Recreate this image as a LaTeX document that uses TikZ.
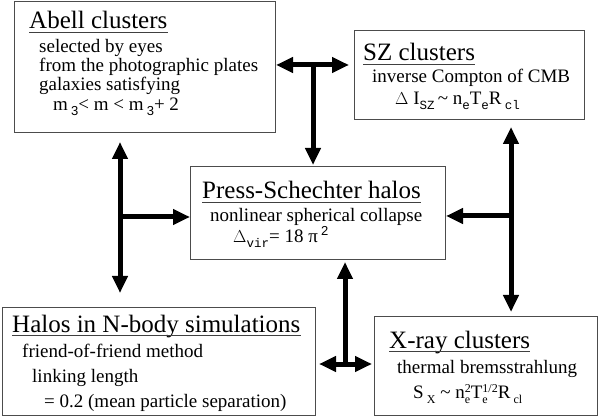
\documentclass[tikz,border=0pt]{standalone}
\usepackage{fontspec}
\setmainfont{Liberation Serif}
\newfontfamily\monof{Liberation Mono}
\newfontfamily\sanf{Liberation Sans}
\usetikzlibrary{arrows.meta}
\newcommand\tsz{\fontsize{25}{30}\selectfont}
\newcommand\bsz{\fontsize{19}{23}\selectfont}
\newcommand\smo[1]{\raisebox{-4.5pt}{\fontsize{12.5}{12}\selectfont\monof #1}}
\newcommand\sti[1]{\raisebox{-5pt}{\fontsize{12}{12}\selectfont #1}}
\newcommand\ssa[1]{\raisebox{-5pt}{\fontsize{13}{13}\selectfont\sanf #1}}
\newcommand\supti[1]{\raisebox{6pt}{\fontsize{12}{12}\selectfont #1}}
\newcommand\supsa[1]{\raisebox{7pt}{\fontsize{13}{13}\selectfont\sanf #1}}
\begin{document}
\begin{tikzpicture}[x=1pt,y=-1pt,
  box/.style={draw=black!70, line width=1pt, inner sep=0pt, outer sep=0pt},
  ttl/.style={anchor=base west, inner sep=0pt, font=\tsz},
  txt/.style={anchor=base west, inner sep=0pt, font=\bsz},
  conn/.style={line width=5pt, -{Triangle[length=17pt,width=15pt]}},
  dconn/.style={line width=5pt, {Triangle[length=17pt,width=15pt]}-{Triangle[length=17pt,width=15pt]}},
  ulline/.style={line width=1pt, draw=black!75}]
\useasboundingbox (0,0) rectangle (599,419);
% boxes
\node[box, minimum width=261pt, minimum height=131pt] (abell) at (144.5,67.5) {};
\node[box, minimum width=230pt, minimum height=89pt] (sz) at (469,75.5) {};
\node[box, minimum width=255pt, minimum height=93pt] (ps) at (317.5,213.5) {};
\node[box, minimum width=313pt, minimum height=108pt] (nbody) at (158.5,361) {};
\node[box, minimum width=223pt, minimum height=99pt] (xray) at (485.5,365.5) {};
% Abell text
\node[ttl] (t1) at (29,29) {Abell clusters};
\node[txt] (a1) at (39,53) {selected by eyes};
\node[txt] (a2) at (39,72) {from the photographic plates};
\node[txt] (a3) at (39,91) {galaxies satisfying};
\node[txt] (a4) at (53,111) {m\,\ssa{3}< m < m\,\ssa{3}+ 2};
% SZ text
\node[ttl] (t2) at (363,61) {SZ clusters};
\node[txt] (s1) at (372,83) {inverse Compton of CMB};
\node[txt] (s2) at (395,105) {$\Delta$ I\smo{SZ}\,\textasciitilde\ n\smo{e}T\smo{e}R\,\smo{cl}};
% PS text
\node[ttl] (t3) at (202,199) {Press-Schechter halos};
\node[txt] (p1) at (210,222) {nonlinear spherical collapse};
\node[txt] (p2) at (233,243) {$\Delta$\smo{vir}= 18 π\,\supsa{2}};
% N-body text
\node[ttl] (t4) at (12,332) {Halos in N-body simulations};
\node[txt] (n1) at (22,357) {friend-of-friend method};
\node[txt] (n2) at (32,382) {linking length};
\node[txt] (n3) at (44,407) {= 0.2 (mean particle separation)};
% X-ray text
\node[ttl] (t5) at (389,348) {X-ray clusters};
\node[txt] (x1) at (397,373) {thermal bremsstrahlung};
\node[txt] (x2) at (413,398) {S\,\sti{X} \textasciitilde\ n\rlap{\sti{e}}\supti{2}T\rlap{\sti{e}}\supti{1/2}R\,\sti{cl}};
% underlines
\foreach \t in {t1,t2,t3,t4,t5}
  \draw[ulline] ([yshift=-3.5pt]\t.base west) -- ([yshift=-3.5pt]\t.base east);
% junction coordinates
\coordinate (jt) at (313,65);
\coordinate (jl) at (120,217);
\coordinate (jr) at (511,216);
\coordinate (jb) at (345,364);
% top T
\draw[dconn, shorten <=1pt, shorten >=5pt] (abell.east |- jt) -- (sz.west |- jt);
\draw[conn, shorten >=2pt] (jt) -- (ps.north -| jt);
% left T
\draw[dconn, shorten <=9pt, shorten >=14pt] (abell.south -| jl) -- (nbody.north -| jl);
\draw[conn] (jl) -- (ps.west |- jl);
% right T
\draw[dconn, shorten <=7pt, shorten >=4pt] (sz.south -| jr) -- (xray.north -| jr);
\draw[conn, shorten >=1pt] (jr) -- (ps.east |- jr);
% bottom T
\draw[dconn, shorten <=4pt, shorten >=2pt] (nbody.east |- jb) -- (xray.west |- jb);
\draw[conn, shorten >=2pt] (jb) -- (ps.south -| jb);
\end{tikzpicture}
\end{document}
